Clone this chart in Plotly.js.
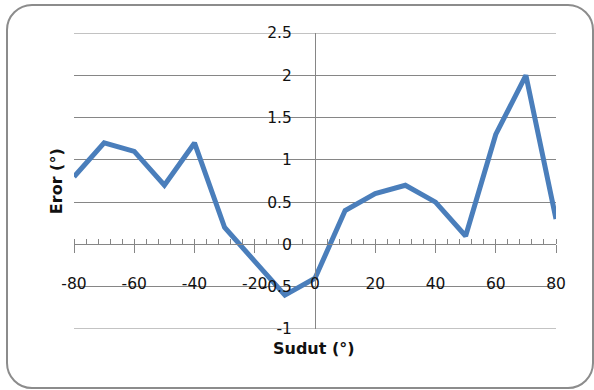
<!DOCTYPE html>
<html>
<head>
<meta charset="utf-8">
<script src="https://cdn.plot.ly/plotly-3.0.1.min.js"></script>
<style>
  html, body { margin: 0; padding: 0; background: #ffffff; }
  #wrap { position: relative; width: 594px; height: 390px; overflow: hidden; }
  #chart { position: absolute; left: 0; top: 0; width: 594px; height: 390px; }
  #frame { position: absolute; left: 6px; top: 4px; width: 588px; height: 385px;
           box-sizing: border-box; border: 2px solid #8c8c8c; border-radius: 26px;
           pointer-events: none; }
</style>
</head>
<body>
<div id="wrap">
  <div id="chart"></div>
  <div id="frame"></div>
</div>
<script>
// Data
const sudut = [-80, -70, -60, -50, -40, -30, -20, -10, 0, 10, 20, 30, 40, 50, 60, 70, 80];
const eror  = [0.8, 1.2, 1.1, 0.7, 1.2, 0.2, -0.2, -0.6, -0.4, 0.4, 0.6, 0.7, 0.5, 0.1, 1.3, 2.0, 0.3];

const xTickVals = [-80, -60, -40, -20, 0, 20, 40, 60, 80];
const xTickText = ["-80", "-60", "-40", "-20", "0", "20", "40", "60", "80"];
const yTickVals = [-1, -0.5, 0, 0.5, 1, 1.5, 2, 2.5];
const yTickText = ["-1", "-0.5", "0", "0.5", "1", "1.5", "2", "2.5"];

const xRange = [-80, 80];
const yRange = [-1, 2.5];
const xZeroFrac = (0 - yRange[0]) / (yRange[1] - yRange[0]);
const yZeroFrac = (0 - xRange[0]) / (xRange[1] - xRange[0]);

const tickFont = { family: "DejaVu Sans, sans-serif", size: 15.5, color: "#111111" };
const titleFont = { family: "DejaVu Sans, sans-serif", size: 16, color: "#111111", weight: "bold" };
const grey = "#868686";

const trace = {
  x: sudut, y: eror, type: "scatter", mode: "lines",
  line: { color: "#4a7ebb", width: 5 },
  hoverinfo: "skip", showlegend: false
};

// gridlines at the range ends (Plotly omits them at the plot edges)
const edgeGrid = [yTickVals[0], yTickVals[yTickVals.length - 1]].map(v => ({
  type: "line", xref: "paper", yref: "y", x0: 0, x1: 1, y0: v, y1: v,
  line: { color: grey, width: 1 }, layer: "below"
}));

const layout = {
  width: 594, height: 390,
  margin: { l: 74, r: 38, t: 33, b: 61 },
  paper_bgcolor: "#ffffff", plot_bgcolor: "#ffffff",
  showlegend: false,
  xaxis: {
    range: xRange, anchor: "free", position: xZeroFrac,
    tickvals: xTickVals, ticktext: xTickText,
    ticks: "outside", ticklen: 8, tickcolor: grey, tickwidth: 1,
    minor: { dtick: 4, tick0: 0, ticks: "inside", ticklen: 5, tickcolor: grey, tickwidth: 1, showgrid: false },
    showline: true, linecolor: grey, linewidth: 1,
    showgrid: false, zeroline: false,
    tickfont: tickFont, ticklabelstandoff: 17
  },
  xaxis2: {
    range: xRange, overlaying: "x", anchor: "free", position: xZeroFrac,
    tickvals: xTickVals, showticklabels: false,
    ticks: "inside", ticklen: 7, tickcolor: grey, tickwidth: 1,
    showline: false, showgrid: false, zeroline: false
  },
  yaxis: {
    range: yRange, anchor: "free", position: yZeroFrac,
    tickvals: yTickVals, ticktext: yTickText,
    ticks: "", showline: true, linecolor: grey, linewidth: 1,
    showgrid: true, gridcolor: grey, gridwidth: 1, zeroline: false,
    tickfont: tickFont, ticklabelstandoff: 20
  },
  shapes: edgeGrid,
  annotations: [
    { text: "Eror (°)", xref: "paper", yref: "paper", x: -0.037, y: 0.5, xanchor: "center", yanchor: "middle",
      textangle: -90, showarrow: false, font: titleFont },
    { text: "Sudut (°)", xref: "paper", yref: "paper", x: 0.498, y: -0.065, xanchor: "center", yanchor: "middle",
      showarrow: false, font: titleFont }
  ]
};

Plotly.newPlot("chart", [trace], layout, { staticPlot: true, displayModeBar: false });
</script>
</body>
</html>
